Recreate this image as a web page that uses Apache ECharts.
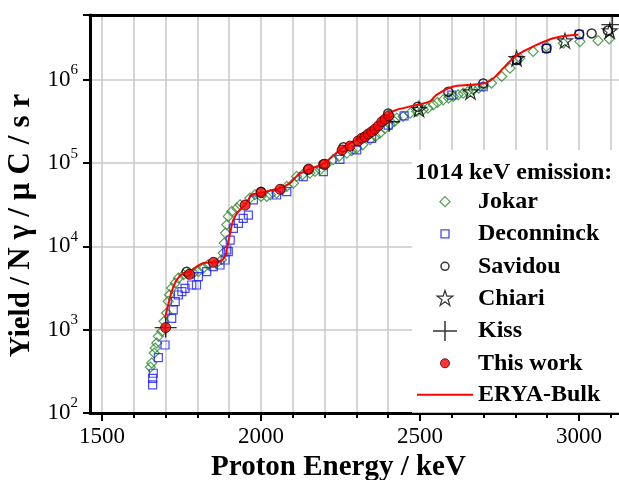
<!DOCTYPE html>
<html>
<head>
<meta charset="utf-8">
<script src="https://cdn.jsdelivr.net/npm/echarts@6/dist/echarts.min.js"></script>
<style>
html, body { margin: 0; padding: 0; background: #fff; }
#main { width: 619px; height: 480px; }
</style>
</head>
<body>
<div id="main"></div>
<script>
// tick values
var xLabelValues = [1500, 2000, 2500, 3000];
var xMinorValues = [1500, 1600, 1700, 1800, 1900, 2000, 2100, 2200, 2300, 2400, 2500, 2600, 2700, 2800, 2900, 3000, 3100];
var yTickPowers = [2, 3, 4, 5, 6];

// [proton energy keV, yield]
var jokar = [
    [1652, 355], [1656, 398], [1664, 525], [1667, 603], [1672, 692], [1677, 832], [1688, 955],
    [1695, 1260], [1703, 1585], [1708, 2190], [1712, 2630], [1719, 3160], [1730, 3630], [1740, 4170],
    [1756, 4570], [1770, 4680], [1787, 4790], [1803, 5010], [1819, 5500], [1834, 6030], [1860, 6310],
    [1876, 6920], [1881, 8320], [1884, 10960], [1888, 14450], [1892, 18200], [1897, 22900], [1908, 26300],
    [1924, 28800], [1934, 31600], [1965, 38000], [1981, 41700], [2000, 39800], [2018, 39800], [2030, 41700],
    [2049, 43700], [2065, 47900], [2081, 52500], [2102, 57500], [2112, 69200], [2130, 72400], [2154, 75900],
    [2170, 79400], [2186, 83200], [2205, 95500], [2227, 110000], [2245, 120000], [2270, 132000], [2285, 141000],
    [2301, 151000], [2320, 166000], [2343, 191000], [2360, 209000], [2374, 229000], [2390, 263000], [2406, 288000],
    [2420, 316000], [2427, 347000], [2447, 363000], [2469, 398000], [2490, 417000], [2510, 437000], [2525, 457000],
    [2542, 501000], [2555, 537000], [2573, 575000], [2590, 603000], [2605, 631000], [2620, 661000], [2636, 692000],
    [2650, 724000], [2668, 759000], [2685, 794000], [2699, 832000], [2725, 912000], [2757, 1096000], [2783, 1380000],
    [2814, 1820000], [2856, 2190000], [2898, 2510000], [2951, 2750000], [3003, 2880000], [3060, 2950000], [3095, 3090000]
];
var deconninck = [
    [1659, 217], [1659, 261], [1661, 300], [1677, 461], [1698, 655], [1719, 1370], [1724, 1730],
    [1730, 2170], [1740, 2610], [1751, 2860], [1761, 3140], [1782, 3440], [1797, 3440], [1803, 4340],
    [1829, 4980], [1850, 5710], [1871, 5980], [1887, 6870], [1897, 8650], [1892, 9060], [1903, 11900],
    [1913, 16500], [1929, 18900], [1944, 21700], [1960, 23800], [1976, 36100], [2049, 41400], [2081, 45400],
    [2133, 68700], [2196, 78900], [2248, 111000], [2301, 144000], [2348, 198000], [2400, 286000], [2450, 369000],
    [2600, 656000], [2699, 826000], [2804, 1730000], [2898, 2380000], [3001, 3520000]
];
var savidou = [
    [1766, 4970], [2000, 45400], [2148, 84000], [2196, 96800], [2259, 155000], [2400, 395000], [2493, 475000],
    [2589, 720000], [2699, 906000], [2804, 1730000], [2898, 2380000], [3001, 3520000], [3040, 3610000], [3091, 3900000]
];
var chiari = [
    [2497, 445000], [2659, 720000], [2804, 1810000], [2956, 2950000], [3097, 3900000]
];
var kiss = [
    [1700, 1060], [2403, 314000], [3105, 4600000]
];
var thisWork = [
    [1700, 1060], [1775, 4620], [1850, 6440], [1950, 31400], [2000, 44200], [2060, 48500], [2150, 84900],
    [2200, 96800], [2255, 143600], [2280, 160000], [2305, 184000], [2317, 199000], [2327, 207000], [2337, 223000],
    [2348, 238000], [2358, 255000], [2369, 279000], [2380, 314000], [2390, 336000], [2402, 371000]
];
var eryaBulk = [
    [1698, 1380], [1708, 1995], [1719, 2880], [1735, 3980], [1756, 4790], [1777, 5010], [1798, 5750],
    [1819, 6310], [1848, 6460], [1871, 6610], [1887, 7590], [1894, 10000], [1903, 14450], [1913, 20900],
    [1929, 26300], [1950, 31600], [1960, 36300], [1971, 41700], [1999, 43650], [2028, 46800], [2060, 50100],
    [2091, 57500], [2117, 72400], [2149, 83200], [2199, 100000], [2254, 151000], [2301, 190500], [2353, 251000],
    [2380, 302000], [2406, 398000], [2427, 436500], [2479, 490000], [2531, 550000], [2552, 661000], [2605, 832000],
    [2657, 871000], [2704, 912000], [2731, 1047000], [2762, 1380000], [2793, 1820000], [2825, 2190000],
    [2867, 2630000], [2919, 3160000], [2961, 3390000], [2998, 3470000]
];

var serif = 'Liberation Serif';
var starBody = 'M12,1L14.47,8.6L22.46,8.6L15.99,13.3L18.47,20.9L12,16.2L5.53,20.9L8.01,13.3L1.54,8.6L9.53,8.6Z';
var starSymbol = 'path://' + starBody;
var crossSymbol = 'path://M0,10H22M11,0V20';

function hollow(color, w) {
    return { color: 'transparent', borderColor: color, borderWidth: w };
}

// y title: the unit part is set wider in the figure
var yTitleHead = 'Yield / ';
var yTitleUnit = 'N\u03b3/\u03bcC/sr';
var yTitleRich = '{h|' + yTitleHead + '}' + yTitleUnit.split('').map(function (c, i, all) {
    return (i === all.length - 1 ? '{e|' : '{c|') + c + '}';
}).join('');
var yTitleFont = { fontFamily: serif, fontSize: 29, fontWeight: 'bold', color: '#000' };
var yUnitFont = { fontFamily: serif, fontSize: 31, fontWeight: 'bold', color: '#000' };

var chart = echarts.init(document.getElementById('main'));

var option = {
    animation: false,
    backgroundColor: '#fff',
    title: {
        text: '1014 keV emission:',
        left: 415,
        top: 161,
        padding: 0,
        textStyle: { fontFamily: serif, fontSize: 24, fontWeight: 'bold', color: '#000' }
    },
    legend: {
        orient: 'vertical',
        left: 412,
        top: 150,
        padding: [39, 40, 6, 5],
        itemGap: 7,
        itemWidth: 56,
        itemHeight: 24,
        backgroundColor: '#fff',
        selectedMode: false,
        textStyle: { fontFamily: serif, fontSize: 24, fontWeight: 'bold', color: '#000', lineHeight: 24 },
        data: [
            { name: 'Jokar', icon: 'path://M0,0M24,24M12,7L17,12L12,17L7,12Z', itemStyle: hollow('#2a8a2a', 1.3) },
            { name: 'Deconninck', icon: 'path://M0,0M24,24M8,8H16V16H8Z', itemStyle: hollow('#1a1aff', 1.3) },
            { name: 'Savidou', icon: 'path://M0,0M24,24M8,12A4,4 0 1,0 16,12A4,4 0 1,0 8,12Z', itemStyle: hollow('#000', 1.5) },
            { name: 'Chiari', icon: 'path://M-4,-4M28,28' + starBody, itemStyle: hollow('#000', 1.2) },
            { name: 'Kiss', icon: 'path://M0,0M24,24M0,12H24M12,2V22', itemStyle: hollow('#000', 1.5) },
            { name: 'This work', icon: 'path://M0,0M24,24M7.5,12A4.5,4.5 0 1,0 16.5,12A4.5,4.5 0 1,0 7.5,12Z', itemStyle: { color: '#ff0000', borderColor: '#300', borderWidth: 1 } },
            { name: 'ERYA-Bulk', icon: 'path://M0,0H56V2H0Z', itemStyle: { color: '#ff0000', borderWidth: 0 } }
        ]
    },
    grid: { left: 90, right: 0, top: 15, bottom: 67, containLabel: false, outerBoundsMode: 'none' },
    xAxis: [
        {
            type: 'value', min: 1462, max: 3126, position: 'bottom',
            axisLine: { lineStyle: { color: '#000', width: 3 } },
            axisTick: { customValues: xMinorValues, length: 5, lineStyle: { color: '#000', width: 2 } },
            axisLabel: {
                customValues: xLabelValues, fontFamily: serif, fontSize: 23, color: '#000', margin: 12,
                formatter: function (v) { return String(v); }
            },
            splitLine: { show: true, lineStyle: { color: '#c8c8c8', width: 1.5 } },
            name: 'Proton Energy / keV', nameLocation: 'middle', nameGap: 35,
            nameTextStyle: { fontFamily: serif, fontSize: 29, fontWeight: 'bold', color: '#000', padding: [0, 32, 0, 0] }
        },
        {
            type: 'value', min: 1462, max: 3126, position: 'bottom',
            axisLine: { show: false },
            axisTick: { customValues: xLabelValues, length: 8, lineStyle: { color: '#000', width: 2 } },
            axisLabel: { show: false },
            splitLine: { show: false }
        },
        {
            type: 'value', min: 1462, max: 3126, position: 'top',
            axisLine: { show: true, lineStyle: { color: '#000', width: 3 } },
            axisTick: { show: false },
            axisLabel: { show: false },
            splitLine: { show: false }
        }
    ],
    yAxis: {
        type: 'log', logBase: 10, min: 100, max: 6000000,
        axisLine: { show: true, lineStyle: { color: '#000', width: 3 } },
        axisTick: { show: true, length: 7, lineStyle: { color: '#000', width: 2 } },
        axisLabel: {
            margin: 12,
            formatter: function (v) {
                var p = Math.round(Math.log10(v));
                if (Math.abs(Math.log10(v) - p) > 1e-6 || yTickPowers.indexOf(p) < 0) {
                    return '';
                }
                return '{b|10}{s|' + p + '}';
            },
            rich: {
                b: { fontFamily: serif, fontSize: 23, color: '#000', lineHeight: 34 },
                s: { fontFamily: serif, fontSize: 15, color: '#000', lineHeight: 15, verticalAlign: 'top' }
            }
        },
        splitLine: { show: true, lineStyle: { color: '#c8c8c8', width: 1.5 } },
        name: yTitleRich, nameLocation: 'middle', nameGap: 51,
        nameTextStyle: {
            fontFamily: serif, fontSize: 29, fontWeight: 'bold', color: '#000',
            rich: {
                h: Object.assign({}, yTitleFont),
                c: Object.assign({ padding: [0, 8, 0, 0] }, yUnitFont),
                e: Object.assign({ padding: [0, 23, 0, 0] }, yUnitFont)
            }
        }
    },
    series: [
        { name: 'Jokar', type: 'scatter', symbol: 'diamond', symbolSize: 10, data: jokar, itemStyle: hollow('#2a8a2a', 1.2), emphasis: { disabled: true } },
        { name: 'Deconninck', type: 'scatter', symbol: 'rect', symbolSize: 8, data: deconninck, itemStyle: hollow('#1a1aff', 1.2), emphasis: { disabled: true } },
        { name: 'Savidou', type: 'scatter', symbol: 'circle', symbolSize: 9, data: savidou, itemStyle: hollow('#000', 1.5), emphasis: { disabled: true } },
        { name: 'Chiari', type: 'scatter', symbol: starSymbol, symbolSize: 15, data: chiari, itemStyle: hollow('#000', 1.2), emphasis: { disabled: true } },
        { name: 'Kiss', type: 'scatter', symbol: crossSymbol, symbolSize: [22, 20], data: kiss, itemStyle: hollow('#000', 1.5), emphasis: { disabled: true } },
        { name: 'This work', type: 'scatter', symbol: 'circle', symbolSize: 10, z: 4, data: thisWork, itemStyle: { color: '#ff0000', borderColor: '#300', borderWidth: 1 }, emphasis: { disabled: true } },
        { name: 'ERYA-Bulk', type: 'line', smooth: 0.3, symbol: 'none', z: 3, data: eryaBulk, lineStyle: { color: '#ff0000', width: 2 }, itemStyle: { color: '#ff0000' }, emphasis: { disabled: true } }
    ]
};

chart.setOption(option);
</script>
</body>
</html>
